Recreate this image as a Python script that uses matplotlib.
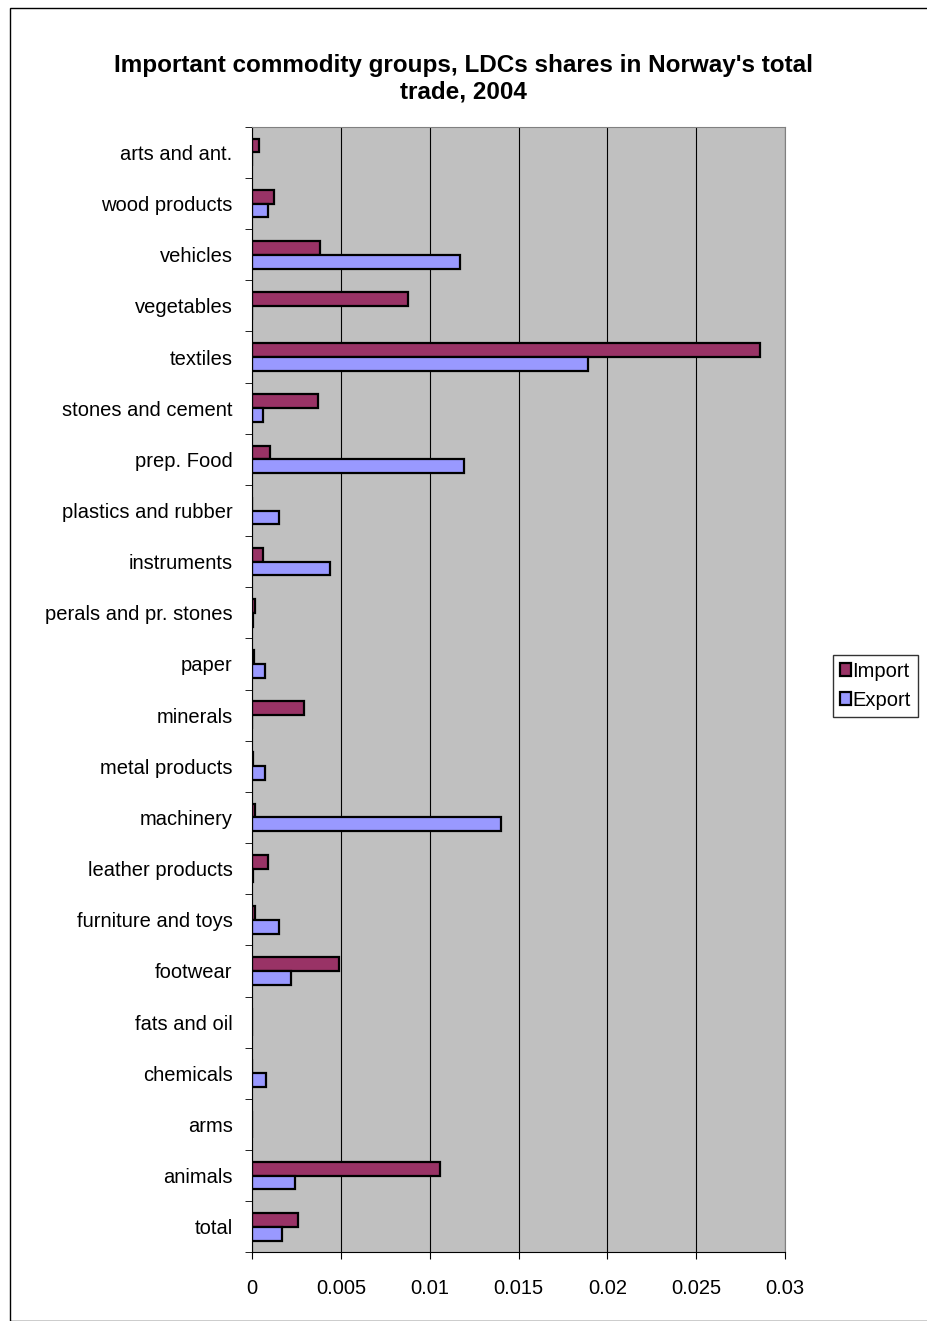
import matplotlib.pyplot as plt
import numpy as np

plt.rcParams['font.family'] = ['Liberation Sans', 'DejaVu Sans']

categories = ['arts and ant.', 'wood products', 'vehicles', 'vegetables', 'textiles',
              'stones and cement', 'prep. Food', 'plastics and rubber', 'instruments',
              'perals and pr. stones', 'paper', 'minerals', 'metal products', 'machinery',
              'leather products', 'furniture and toys', 'footwear', 'fats and oil',
              'chemicals', 'arms', 'animals', 'total']
imports = [0.0004, 0.00125, 0.0038, 0.0088, 0.0286, 0.0037, 0.001, 0.0, 0.0006,
           0.00015, 0.0001, 0.0029, 0.00005, 0.00015, 0.0009, 0.00015, 0.0049, 0.0,
           0.0, 0.0, 0.0106, 0.0026]
exports = [0.0, 0.0009, 0.0117, 0.0, 0.0189, 0.0006, 0.0119, 0.0015, 0.0044,
           0.00005, 0.0007, 0.0, 0.0007, 0.014, 0.00005, 0.0015, 0.0022, 0.0,
           0.0008, 0.0, 0.0024, 0.0017]

n = len(categories)
y = np.arange(n)[::-1]
h = 0.27

fig = plt.figure(figsize=(9.27, 13.21), dpi=100)
fig.patches.append(plt.Rectangle((0.011, 0.0), 0.995, 0.994, transform=fig.transFigure,
                                 fill=False, edgecolor='black', linewidth=1))
ax = fig.add_axes([0.272, 0.052, 0.575, 0.852])
ax.set_facecolor('#c0c0c0')
ax.barh(y + h / 2, imports, height=h, color='#993366', edgecolor='black', linewidth=1.6, label='Import')
ax.barh(y - h / 2, exports, height=h, color='#9999ff', edgecolor='black', linewidth=1.6, label='Export')

ax.set_xlim(0, 0.03)
ax.set_ylim(-0.5, n - 0.5)
ax.set_xticks([0, 0.005, 0.01, 0.015, 0.02, 0.025, 0.03])
ax.set_xticklabels(['0', '0.005', '0.01', '0.015', '0.02', '0.025', '0.03'], fontsize=14.5)
ax.set_yticks(y)
ax.set_yticklabels(categories, fontsize=14.5)
ax.set_yticks(np.arange(n + 1) - 0.5, minor=True)
ax.tick_params(axis='y', which='major', length=0, pad=14)
ax.tick_params(axis='y', which='minor', length=5)
ax.tick_params(axis='x', length=5, pad=14)
ax.grid(axis='x', color='black', linewidth=0.8)
ax.set_axisbelow(True)
for s in ['top', 'right']:
    ax.spines[s].set_color('#808080')

fig.suptitle("Important commodity groups, LDCs shares in Norway's total\ntrade, 2004",
             fontsize=17.5, fontweight='bold', y=0.959)

fig.legend(loc='center left', bbox_to_anchor=(0.899, 0.481), fontsize=14.5, frameon=True,
           fancybox=False, edgecolor='black', handlelength=0.55, handleheight=0.55,
           handletextpad=0.05, borderpad=0.35, labelspacing=0.5, borderaxespad=0)

fig.savefig('out.png', dpi=100)
